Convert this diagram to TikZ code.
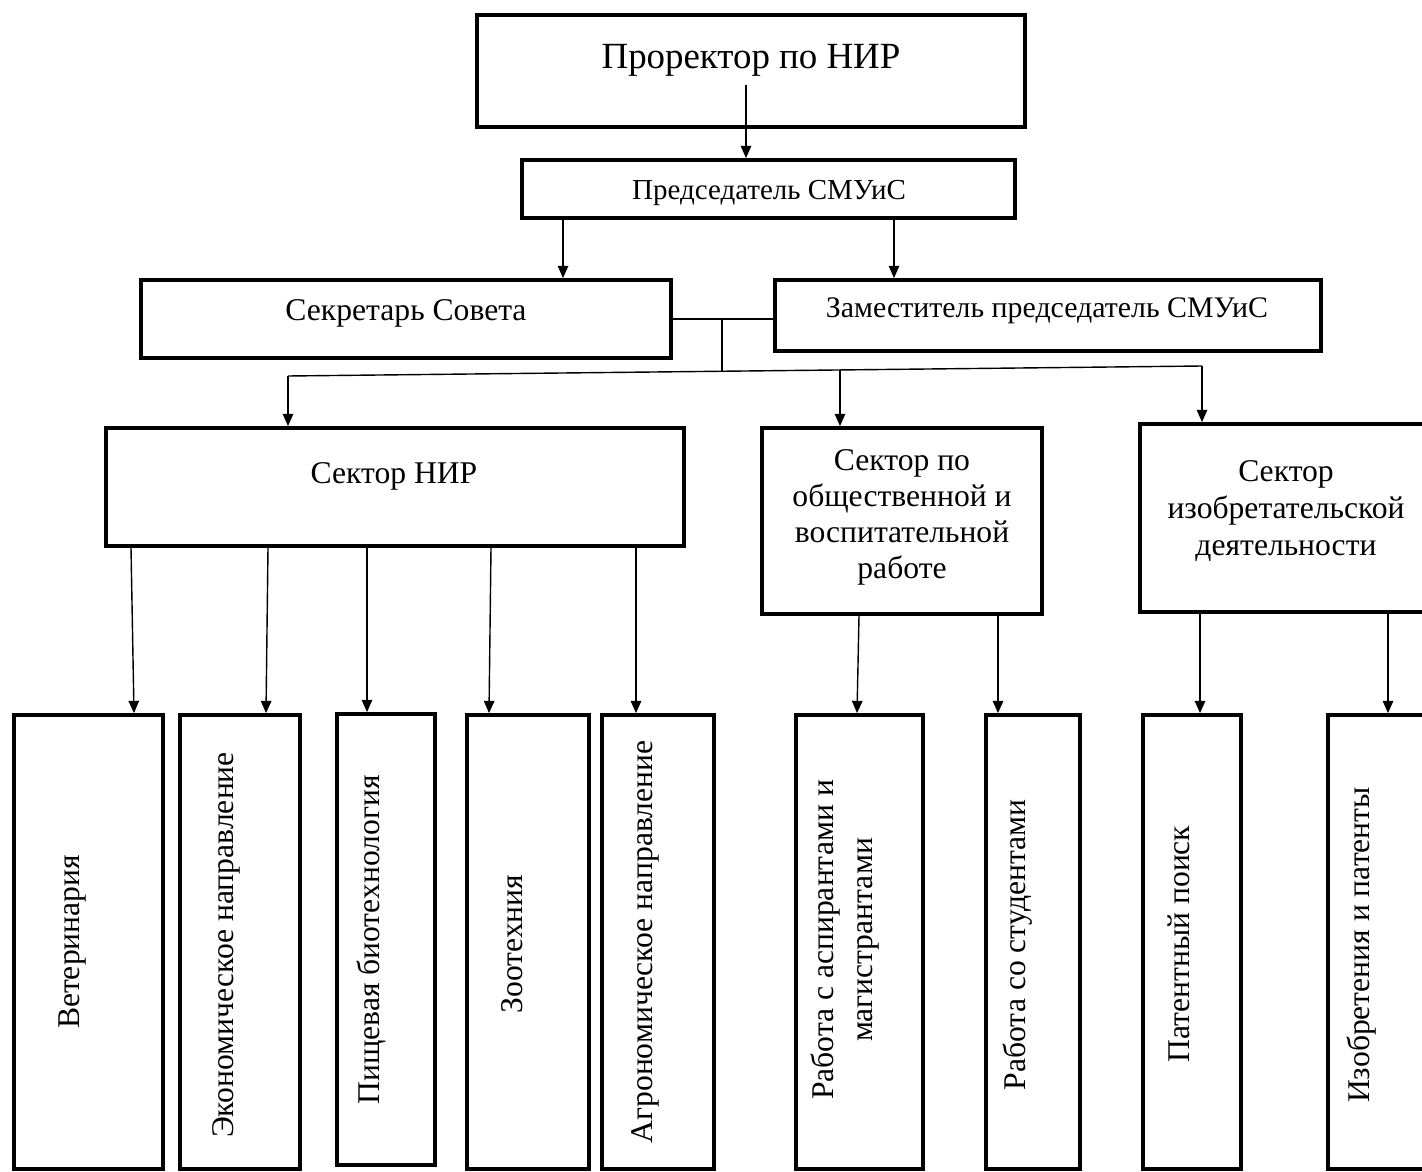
\documentclass[tikz,border=0pt]{standalone}
\usepackage{fontspec}
\setmainfont{Liberation Serif}
\usetikzlibrary{arrows.meta}

\begin{document}
\begin{tikzpicture}[x=0.02cm, y=-0.02cm,
    box/.style={draw, line width=2.2pt, inner sep=0pt},
    txt/.style={font=\fontsize{18}{20.5}\selectfont, align=center, inner sep=0pt},
    vtxt/.style={txt, rotate=90},
    arr/.style={line width=0.8pt, -{Triangle[length=7pt,width=6pt]}}]
    \useasboundingbox (0,0) rectangle (1422,1172);
    \clip (0,0) rectangle (1422,1172);
    % top levels
    \node[box, minimum width=10.96cm, minimum height=2.24cm] (prorector) at (751,71) {};
    \node[txt, font=\fontsize{21}{24}\selectfont] (prorector-t) at (751,60) {Проректор по НИР};
    \node[box, minimum width=9.86cm, minimum height=1.16cm] (chair) at (768.5,189) {};
    \node[txt, font=\fontsize{16.5}{19}\selectfont] (chair-t) at (769,193) {Председатель СМУиС};
    \node[box, minimum width=10.6cm, minimum height=1.56cm] (secretary) at (406,319) {};
    \node[txt] (secretary-t) at (406,313) {Секретарь Совета};
    \node[box, minimum width=10.92cm, minimum height=1.42cm] (deputy) at (1048,315.5) {};
    \node[txt, font=\fontsize{17}{19}\selectfont] (deputy-t) at (1047,311) {Заместитель председатель СМУиС};
    % sectors
    \node[box, minimum width=11.56cm, minimum height=2.36cm] (nir) at (395,487) {};
    \node[txt] (nir-t) at (394,476) {Сектор НИР};
    \node[box, minimum width=5.6cm, minimum height=3.72cm] (social) at (902,521) {};
    \node[txt] (social-t) at (902,517) {Сектор по\\общественной и\\воспитательной\\работе};
    \node[box, minimum width=5.84cm, minimum height=3.76cm] (invent) at (1286,518) {};
    \node[txt, font=\fontsize{18}{21}\selectfont] (invent-t) at (1286,511) {Сектор\\изобретательской\\деятельности};
    % directions
    \node[box, minimum width=2.98cm, minimum height=9.08cm] (vet) at (88.5,942) {};
    \node[vtxt] (vet-t) at (73,942) {Ветеринария};
    \node[box, minimum width=2.4cm, minimum height=9.08cm] (econ) at (240,942) {};
    \node[vtxt] (econ-t) at (226,945) {Экономическое направление};
    \node[box, minimum width=1.96cm, minimum height=9.02cm] (food) at (386,939.5) {};
    \node[vtxt] (food-t) at (371,940) {Пищевая биотехнология};
    \node[box, minimum width=2.44cm, minimum height=9.08cm] (zoo) at (528,942) {};
    \node[vtxt] (zoo-t) at (512,944) {Зоотехния};
    \node[box, minimum width=2.24cm, minimum height=9.08cm] (agro) at (658,942) {};
    \node[vtxt] (agro-t) at (645,942) {Агрономическое направление};
    \node[box, minimum width=2.54cm, minimum height=9.08cm] (grad) at (859.5,942) {};
    \node[vtxt, font=\fontsize{18}{22.7}\selectfont] (grad-t) at (845,940) {Работа с аспирантами и\\магистрантами};
    \node[box, minimum width=1.88cm, minimum height=9.08cm] (stud) at (1033,942) {};
    \node[vtxt] (stud-t) at (1018,945) {Работа со студентами};
    \node[box, minimum width=1.96cm, minimum height=9.08cm] (patent) at (1192,942) {};
    \node[vtxt] (patent-t) at (1179,944) {Патентный поиск};
    \node[box, minimum width=2.08cm, minimum height=9.08cm] (inv2) at (1380,942) {};
    \node[vtxt] (inv2-t) at (1362,945) {Изобретения и патенты};
    % connectors
    \coordinate (p0) at (746,85);
    \coordinate (j) at (722,0 |- secretary.east);
    \coordinate (busl) at (288,376);
    \coordinate (busm) at (722,371);
    \coordinate (busc) at (840,369.5);
    \coordinate (busr) at (1202,366);
    \draw[arr] (p0) -- (p0 |- chair.north);
    \draw[arr] (563,0 |- chair.south) -- (563,0 |- secretary.north);
    \draw[arr] (894,0 |- chair.south) -- (894,0 |- deputy.north);
    \draw[line width=0.8pt] (secretary.east) -- (secretary.east -| deputy.west);
    \draw[line width=0.8pt] (j) -- (busm);
    \draw[line width=0.8pt] (busl) -- (busr);
    \draw[arr] (busl) -- (busl |- nir.north);
    \draw[arr] (busc) -- (busc |- social.north);
    \draw[arr] (busr) -- (busr |- invent.north);
    \draw[arr] (131,0 |- nir.south) -- (134,0 |- vet.north);
    \draw[arr] (268,0 |- nir.south) -- (266,0 |- econ.north);
    \draw[arr] (367,0 |- nir.south) -- (367,0 |- food.north);
    \draw[arr] (491,0 |- nir.south) -- (489,0 |- zoo.north);
    \draw[arr] (636,0 |- nir.south) -- (636,0 |- agro.north);
    \draw[arr] (859,0 |- social.south) -- (857,0 |- grad.north);
    \draw[arr] (998,0 |- social.south) -- (998,0 |- stud.north);
    \draw[arr] (1200,0 |- invent.south) -- (1200,0 |- patent.north);
    \draw[arr] (1388,0 |- invent.south) -- (1388,0 |- inv2.north);
  \end{tikzpicture}
\end{document}
